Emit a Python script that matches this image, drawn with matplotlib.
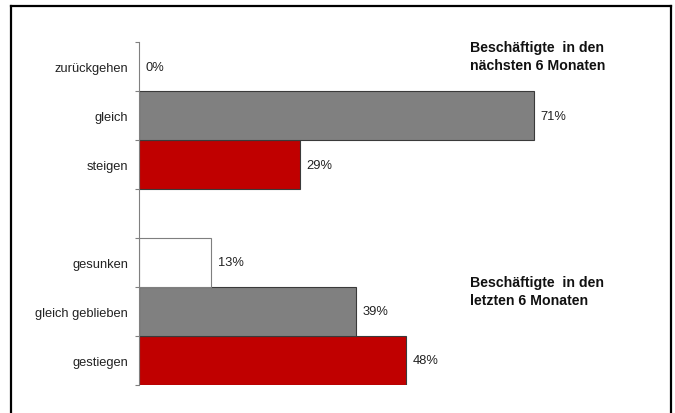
import matplotlib.pyplot as plt
import numpy as np
from matplotlib.lines import Line2D

plt.rcParams['font.family'] = ['Liberation Sans', 'DejaVu Sans']

# categories from bottom to top, blank slot separates the two blocks
categories = ['gestiegen', 'gleich geblieben', 'gesunken', '',
              'steigen', 'gleich', 'zurückgehen']
values = [48, 39, 13, None, 29, 71, 0]
fills = ['#C00000', '#808080', 'white', None, '#C00000', '#808080', 'white']
edges = ['#3a3a3a', '#3a3a3a', '#7f7f7f', None, '#3a3a3a', '#3a3a3a', '#7f7f7f']

title_next = 'Beschäftigte  in den\nnächsten 6 Monaten'
title_last = 'Beschäftigte  in den\nletzten 6 Monaten'

W, H = 675, 414
fig = plt.figure(figsize=(W / 100, H / 100), dpi=100)
ax = fig.add_axes([139 / W, 1 - 385.7 / H, (671 - 139) / W, (385.7 - 43.3) / H])

pos = np.arange(len(categories))
for p, v, fc, ec in zip(pos, values, fills, edges):
    if v is None:
        continue
    if v > 0:
        ax.barh(p, v, height=1.0, color=fc, edgecolor=ec, linewidth=0.8)
    ax.annotate(f'{v}%', xy=(v, p), xytext=(4.5, 0), textcoords='offset points',
                va='center', ha='left', fontsize=9.3, color='#222222')

ax.set_xlim(0, 95.6)
ax.set_ylim(-0.5, len(categories) - 0.5)
ax.set_yticks(pos)
ax.set_yticklabels(categories, fontsize=9.3, color='#222222')
ax.set_yticks(np.arange(-0.5, len(categories)), minor=True)
ax.tick_params(axis='y', which='major', length=0, pad=8)
ax.tick_params(axis='y', which='minor', length=3, color='#808080', width=0.8)
ax.set_xticks([])
for side in ['top', 'right', 'bottom']:
    ax.spines[side].set_visible(False)
ax.spines['left'].set_color('#808080')
ax.spines['left'].set_linewidth(0.8)

fig.text(470 / W, 1 - 57 / H, title_next, fontsize=10.2, fontweight='bold',
         va='center', ha='left', linespacing=1.4, color='#111111')
fig.text(470 / W, 1 - 292 / H, title_last, fontsize=10.2, fontweight='bold',
         va='center', ha='left', linespacing=1.4, color='#111111')

# frame round the chart (open at the bottom)
fx0, fx1, fy = 10.5 / W, 670.5 / W, 1 - 6.5 / H
for xs, ys in [([fx0, fx0], [0, fy]), ([fx0, fx1], [fy, fy]), ([fx1, fx1], [fy, 0])]:
    fig.add_artist(Line2D(xs, ys, transform=fig.transFigure, color='black', lw=1.6))

fig.savefig('out.png', dpi=100)
